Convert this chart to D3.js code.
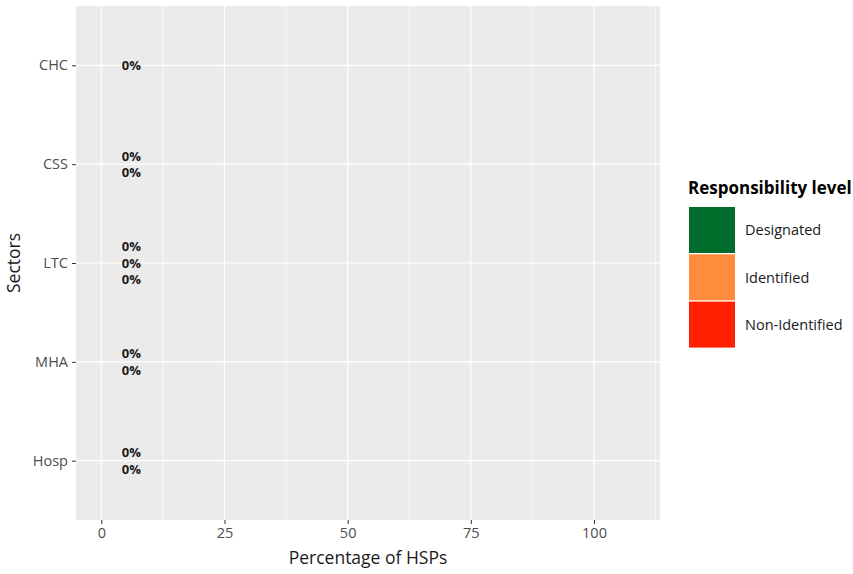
<!DOCTYPE html>
<html><head><meta charset="utf-8">
<script src="https://cdn.jsdelivr.net/npm/d3@7"></script>
<style>body{margin:0;background:#fff;} text{font-family:"Open Sans",Lato,sans-serif;}</style>
</head><body>
<svg id="c" width="853" height="574"></svg>
<script>
const sectors = ["CHC","CSS","LTC","MHA","Hosp"];
const levels = ["Designated","Identified","Non-Identified"];
const colors = ["#006d2c","#fd8d3c","#ff2000"];
// percentage values per sector for the levels present
const chcValues = [{level:"Designated", value:0}];
const cssValues = [{level:"Designated", value:0},{level:"Identified", value:0}];
const ltcValues = [{level:"Designated", value:0},{level:"Identified", value:0},{level:"Non-Identified", value:0}];
const mhaValues = [{level:"Designated", value:0},{level:"Identified", value:0}];
const hospValues = [{level:"Designated", value:0},{level:"Identified", value:0}];
const xTicks = [0,25,50,75,100];
const xMinor = [12.5,37.5,62.5,87.5,112.5];

const data = [chcValues,cssValues,ltcValues,mhaValues,hospValues];
const FONT = "'Open Sans',Lato,sans-serif";

const svg = d3.select("#c");
const L=76, R=660, T=6, B=520;
const x = d3.scaleLinear().domain([-5.14,113.4]).range([L,R]);
const y = d3.scalePoint().domain(sectors).range([T,B]).padding(0.6);
const color = d3.scaleOrdinal().domain(levels).range(colors);

svg.append("rect").attr("x",L).attr("y",T).attr("width",R-L).attr("height",B-T).attr("fill","#ebebeb");
const g = svg.append("g");
xMinor.forEach(v=>g.append("line").attr("x1",x(v)).attr("x2",x(v)).attr("y1",T).attr("y2",B).attr("stroke","#fff").attr("stroke-width",0.6));
xTicks.forEach(v=>g.append("line").attr("x1",x(v)).attr("x2",x(v)).attr("y1",T).attr("y2",B).attr("stroke","#fff").attr("stroke-width",1.2));
sectors.forEach(s=>g.append("line").attr("x1",L).attr("x2",R).attr("y1",y(s)).attr("y2",y(s)).attr("stroke","#fff").attr("stroke-width",1.2));

// bars and labels
const step = 16.5;
data.forEach((arr,i)=>{
  const s = sectors[i];
  const n = arr.length;
  arr.forEach((d,j)=>{
    const cy = y(s) + (j-(n-1)/2)*step;
    svg.append("rect").attr("x",x(0)).attr("y",cy-step/2).attr("width",x(d.value)-x(0)).attr("height",step).attr("fill",color(d.level));
    svg.append("text").attr("x",x(d.value+6.1)).attr("y",cy).attr("dy","0.36em").attr("text-anchor","middle")
      .attr("font-size",13).attr("font-weight","bold").attr("fill","#1a1a1a").text(d.value+"%");
  });
});

// axes
const xa = svg.append("g").attr("transform",`translate(0,${B})`).call(d3.axisBottom(x).tickValues(xTicks).tickSize(4).tickPadding(4));
const ya = svg.append("g").attr("transform",`translate(${L},0)`).call(d3.axisLeft(y).tickSize(4).tickPadding(4));
[xa,ya].forEach(a=>{a.select(".domain").remove(); a.selectAll("line").attr("stroke","#333"); a.selectAll("text").attr("fill","#4d4d4d").attr("font-size",14.5).style("font-family",FONT);});

svg.append("text").attr("x",(L+R)/2).attr("y",564).attr("text-anchor","middle").attr("font-size",17.5).attr("fill","#1a1a1a").text("Percentage of HSPs");
svg.append("text").attr("transform",`translate(20,${(T+B)/2}) rotate(-90)`).attr("text-anchor","middle").attr("font-size",17.5).attr("fill","#1a1a1a").text("Sectors");

// legend
const lg = svg.append("g");
lg.append("text").attr("x",688).attr("y",194).attr("font-size",17).attr("font-weight","bold").attr("fill","#000").text("Responsibility level");
levels.forEach((lv,i)=>{
  const ky = 207 + i*47.3;
  lg.append("rect").attr("x",689).attr("y",ky).attr("width",46).attr("height",46).attr("fill",color(lv));
  lg.append("text").attr("x",745).attr("y",ky+23).attr("dy","0.36em").attr("font-size",14.5).attr("fill","#1a1a1a").text(lv);
});
</script>
</body></html>
